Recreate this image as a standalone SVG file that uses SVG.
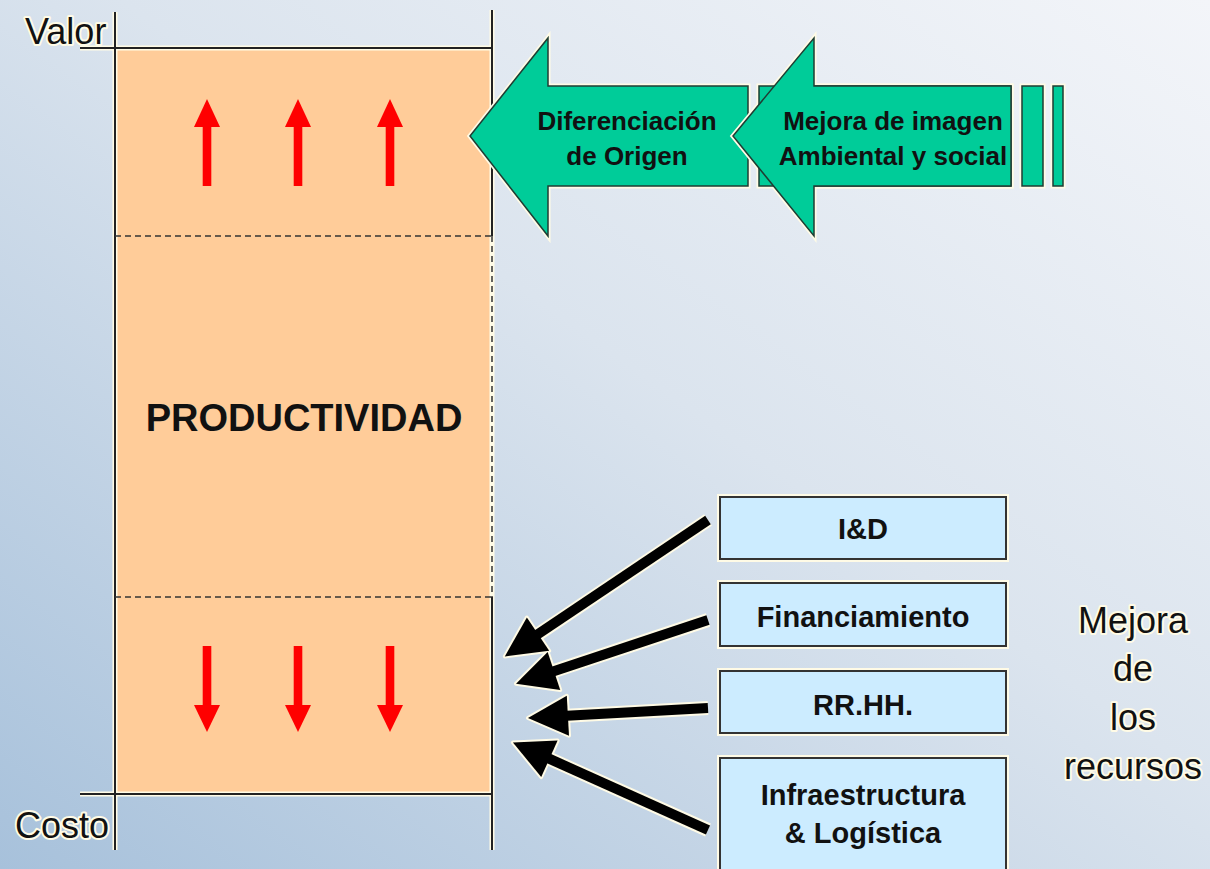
<svg xmlns="http://www.w3.org/2000/svg" width="1210" height="869" viewBox="0 0 1210 869">
<defs>
<linearGradient id="bg" x1="1" y1="0" x2="0" y2="1">
<stop offset="0" stop-color="#f3f5f9"/>
<stop offset="0.45" stop-color="#dbe4ee"/>
<stop offset="1" stop-color="#a7c1db"/>
</linearGradient>
<marker id="ah" markerUnits="userSpaceOnUse" markerWidth="46" markerHeight="46" viewBox="-3 -3 46 46" refX="1" refY="20" orient="auto">
<path d="M0,0 L40,20 L0,40 z" fill="#000"/>
</marker>
<marker id="ahh" markerUnits="userSpaceOnUse" markerWidth="50" markerHeight="50" viewBox="-4 -4 50 50" refX="1" refY="20" orient="auto">
<path d="M0,0 L40,20 L0,40 z" fill="#fffbe6" stroke="#fffbe6" stroke-width="4" stroke-linejoin="round"/>
</marker>
<style>
.ax{stroke:#222;stroke-width:2;fill:none}
.halo{stroke:#fffbe6;stroke-width:5;fill:none}
.lbl{font-family:"Liberation Sans",Arial,sans-serif;font-size:36px;fill:#111;stroke:#fffbe6;stroke-width:4;paint-order:stroke;stroke-linejoin:round}
.big{font-family:"Liberation Sans",Arial,sans-serif;font-size:38px;font-weight:bold;fill:#111;text-anchor:middle}
.gt{font-family:"Liberation Sans",Arial,sans-serif;font-size:26px;font-weight:bold;fill:#111;text-anchor:middle}
.bt{font-family:"Liberation Sans",Arial,sans-serif;font-size:29px;font-weight:bold;fill:#111;text-anchor:middle}
.gr{fill:#00cc99;stroke:#1f3d33;stroke-width:1.5}
.grh{fill:none;stroke:#fffbe6;stroke-width:5}
.bx{fill:#ccecff;stroke:#333;stroke-width:2}
.bxh{fill:none;stroke:#fffbe6;stroke-width:6}
.red{fill:#ff0000}
.dash{stroke:#333;stroke-width:1.5;stroke-dasharray:6 4;fill:none}
.conn{stroke:#000;stroke-width:10;fill:none;marker-end:url(#ah)}
.connh{stroke:#fffbe6;stroke-width:14;fill:none;marker-end:url(#ahh)}
</style>
</defs>
<rect width="1210" height="869" fill="url(#bg)"/>

<g id="productividad">
<rect x="115" y="48" width="377" height="746" fill="#ffcc99"/>
<path class="halo" d="M115,12 V850 M492,10 V850 M80,48 H492 M80,794 H492"/>
<path class="ax" d="M115,12 V850 M492,10 V236 M492,597 V850 M80,48 H492 M80,794 H492"/>
<path class="dash" d="M115,236 H492 M115,597 H492 M492,236 V597"/>
<text class="big" x="304" y="431">PRODUCTIVIDAD</text>
</g>

<g id="valor-arrows">
<rect class="red" x="202.7" y="126" width="8.6" height="60"/>
<polygon class="red" points="194,127 207,99 220,127"/>
<rect class="red" x="293.7" y="126" width="8.6" height="60"/>
<polygon class="red" points="285,127 298,99 311,127"/>
<rect class="red" x="385.7" y="126" width="8.6" height="60"/>
<polygon class="red" points="377,127 390,99 403,127"/>
</g>

<g id="costo-arrows">
<rect class="red" x="202.7" y="646" width="8.6" height="60"/>
<polygon class="red" points="194,705 207,732 220,705"/>
<rect class="red" x="293.7" y="646" width="8.6" height="60"/>
<polygon class="red" points="285,705 298,732 311,705"/>
<rect class="red" x="385.7" y="646" width="8.6" height="60"/>
<polygon class="red" points="377,705 390,732 403,705"/>
</g>

<g id="axis-labels">
<text class="lbl" x="25" y="44">Valor</text>
<text class="lbl" x="15" y="838">Costo</text>
</g>

<g id="diferenciacion">
<polygon class="grh" points="470,136 548,38 548,86 748,86 748,186 548,186 548,236"/>
<polygon class="gr" points="470,136 548,38 548,86 748,86 748,186 548,186 548,236"/>
<text class="gt" x="627" y="130">Diferenciación</text>
<text class="gt" x="627" y="165">de Origen</text>
</g>

<g id="mejora-imagen">
<rect class="grh" x="759" y="86" width="252" height="100"/>
<polygon class="grh" points="733,136 814,38 814,86 1011,86 1011,186 814,186 814,236"/>
<rect class="gr" x="759" y="86" width="252" height="100"/>
<polygon class="gr" points="733,136 814,38 814,86 1011,86 1011,186 814,186 814,236"/>
<text class="gt" x="893" y="130">Mejora de imagen</text>
<text class="gt" x="893" y="165">Ambiental y social</text>
<rect class="grh" x="1022" y="86" width="21" height="100"/>
<rect class="gr" x="1022" y="86" width="21" height="100"/>
<rect class="grh" x="1053" y="86" width="10" height="100"/>
<rect class="gr" x="1053" y="86" width="10" height="100"/>
</g>

<g id="connectors">
<path class="connh" d="M708,520 L537.2,634.7"/>
<path class="connh" d="M708,620 L553,671.4"/>
<path class="connh" d="M708,708 L566.9,715.8"/>
<path class="connh" d="M708,830 L548.5,758.4"/>
<path class="conn" d="M708,520 L537.2,634.7"/>
<path class="conn" d="M708,620 L553,671.4"/>
<path class="conn" d="M708,708 L566.9,715.8"/>
<path class="conn" d="M708,830 L548.5,758.4"/>
</g>

<g id="id">
<rect class="bxh" x="720" y="497" width="286" height="62"/>
<rect class="bx" x="720" y="497" width="286" height="62"/>
<text class="bt" x="863" y="539">I&amp;D</text>
</g>
<g id="financiamiento">
<rect class="bxh" x="720" y="583" width="286" height="63"/>
<rect class="bx" x="720" y="583" width="286" height="63"/>
<text class="bt" x="863" y="627">Financiamiento</text>
</g>
<g id="rrhh">
<rect class="bxh" x="720" y="671" width="286" height="62"/>
<rect class="bx" x="720" y="671" width="286" height="62"/>
<text class="bt" x="863" y="715">RR.HH.</text>
</g>
<g id="infraestructura">
<rect class="bxh" x="720" y="758" width="286" height="125"/>
<rect class="bx" x="720" y="758" width="286" height="125"/>
<text class="bt" x="863" y="805">Infraestructura</text>
<text class="bt" x="863" y="843">&amp; Logística</text>
</g>

<g id="mejora-recursos">
<text class="lbl" x="1133" y="633" text-anchor="middle">Mejora</text>
<text class="lbl" x="1133" y="681" text-anchor="middle">de</text>
<text class="lbl" x="1133" y="730" text-anchor="middle">los</text>
<text class="lbl" x="1133" y="779" text-anchor="middle">recursos</text>
</g>
</svg>
